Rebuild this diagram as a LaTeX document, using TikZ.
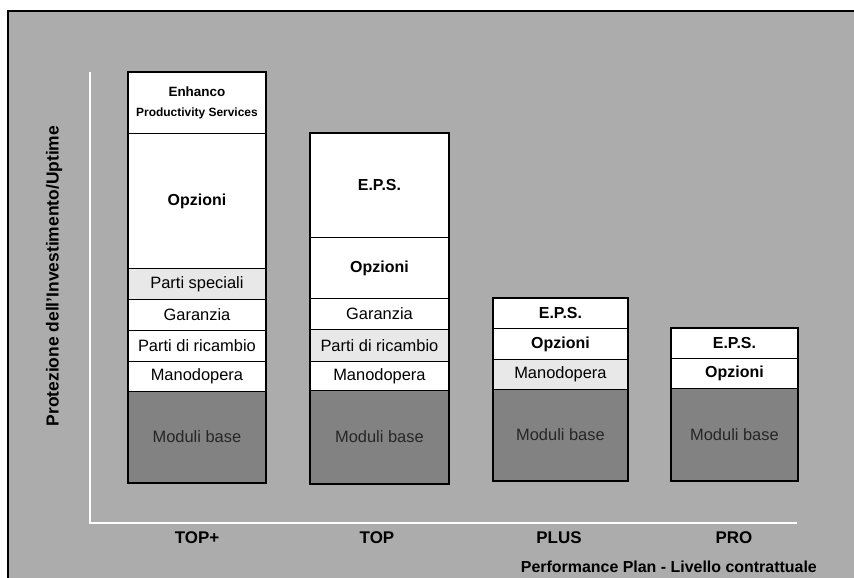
\documentclass[tikz,border=0pt]{standalone}
\usepackage{fontspec}
\setmainfont{Liberation Sans}
\definecolor{bggray}{HTML}{ACACAC}
\definecolor{darkgray}{HTML}{828282}
\definecolor{lightfill}{HTML}{E8E8E8}
\begin{document}
\begin{tikzpicture}[x=1bp,y=-1bp]
\tikzset{
  seg/.style 2 args={draw=black, line width=0.9bp, fill=white, anchor=north west,
    inner sep=0pt, align=center, minimum width=#1bp, minimum height=#2bp,
    font=\fontsize{16.5}{19}\selectfont},
  lite/.style={fill=lightfill},
  basemod/.style={fill=darkgray, text=black!85},
  bold/.style={font=\fontsize{16}{19}\selectfont\bfseries},
  barframe/.style={draw=black, line width=2.6bp},
  axisline/.style={draw=white, line width=2bp},
  plan/.style={font=\fontsize{17}{19}\selectfont\bfseries, inner sep=0pt},
  ylab/.style={font=\fontsize{17.5}{19}\selectfont\bfseries, inner sep=0pt, rotate=90}
}
\useasboundingbox (0,0) rectangle (854,578);
\fill[white] (0,0) rectangle (854,578);
\fill[bggray] (8,11) rectangle (854,578);
\draw[line width=2.2bp] (854,11) -- (8,11) -- (8,578);

% axes
\coordinate (ytop) at (90,72);
\coordinate (orig) at (90,523);
\coordinate (xend) at (797,523);
\draw[axisline] (ytop) -- (orig) -- (xend);

% Bar TOP+
\node[seg={137}{61}] (eps1) at (128,72) {{\fontsize{13.5}{16}\selectfont\bfseries Enhanco}\\[1pt]{\fontsize{12}{14}\selectfont\bfseries Productivity Services}};
\node[seg={137}{135},bold] (opz1) at (128,133) {Opzioni};
\node[seg={137}{31},lite] (ps1) at (128,268) {Parti speciali};
\node[seg={137}{31}] (gar1) at (128,299) {Garanzia};
\node[seg={137}{31}] (pr1) at (128,330) {Parti di ricambio};
\node[seg={137}{30}] (man1) at (128,361) {Manodopera};
\node[seg={137}{91},basemod] (mod1) at (128,391) {Moduli base};
\draw[barframe] (eps1.north west) rectangle (mod1.south east);

% Bar TOP
\node[seg={138}{104},bold] (eps2) at (310,133) {E.P.S.};
\node[seg={138}{61},bold] (opz2) at (310,237) {Opzioni};
\node[seg={138}{31}] (gar2) at (310,298) {Garanzia};
\node[seg={138}{32},lite] (pr2) at (310,329) {Parti di ricambio};
\node[seg={138}{29}] (man2) at (310,361) {Manodopera};
\node[seg={138}{93},basemod] (mod2) at (310,390) {Moduli base};
\draw[barframe] (eps2.north west) rectangle (mod2.south east);

% Bar PLUS
\node[seg={134}{30},bold] (eps3) at (493,298) {E.P.S.};
\node[seg={134}{31},bold] (opz3) at (493,328) {Opzioni};
\node[seg={134}{30},lite] (man3) at (493,359) {Manodopera};
\node[seg={134}{91},basemod] (mod3) at (493,389) {Moduli base};
\draw[barframe] (eps3.north west) rectangle (mod3.south east);

% Bar PRO
\node[seg={126}{30},bold] (eps4) at (671,328) {E.P.S.};
\node[seg={126}{30},bold] (opz4) at (671,358) {Opzioni};
\node[seg={126}{92},basemod] (mod4) at (671,388) {Moduli base};
\draw[barframe] (eps4.north west) rectangle (mod4.south east);

% labels
\node[plan] (lab1) at (197,538) {TOP+};
\node[plan] (lab2) at (377,538) {TOP};
\node[plan] (lab3) at (559,538) {PLUS};
\node[plan] (lab4) at (734,538) {PRO};
\node[plan, anchor=east, font=\fontsize{16}{18}\selectfont\bfseries] (ptitle) at (817,567) {Performance Plan - Livello contrattuale};
\node[ylab] (ylabel) at (54,276) {Protezione dell'Investimento/Uptime};
\end{tikzpicture}
\end{document}
